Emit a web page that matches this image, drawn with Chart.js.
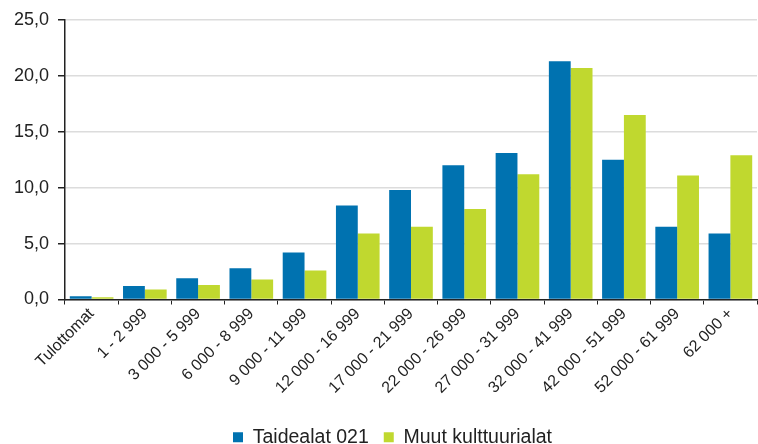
<!DOCTYPE html>
<html>
<head>
<meta charset="utf-8">
<script src="https://cdn.jsdelivr.net/npm/chart.js@4"></script>
<style>
html,body{margin:0;padding:0;background:#fff;}
#wrap{width:758px;height:444px;position:relative;}
</style>
</head>
<body>
<div id="wrap"><canvas id="c" width="758" height="444"></canvas></div>
<script>
const categories = ["Tulottomat","1 - 2 999","3 000 - 5 999","6 000 - 8 999","9 000 - 11 999","12 000 - 16 999","17 000 - 21 999","22 000 - 26 999","27 000 - 31 999","32 000 - 41 999","42 000 - 51 999","52 000 - 61 999","62 000 +"];
const taidealat = [0.3,1.2,1.9,2.8,4.2,8.4,9.8,12.0,13.1,21.3,12.5,6.5,5.9];
const muut = [0.2,0.9,1.3,1.8,2.6,5.9,6.5,8.1,11.2,20.7,16.5,11.1,12.9];
const seriesNames = ["Taidealat 021","Muut kulttuurialat"];
const yTicks = [0,5,10,15,20,25];

const FONT = "'Liberation Sans', Arial, sans-serif";
const shiftLegend = {
  id: 'shiftLegend',
  afterLayout(chart) {
    if (chart.legend) { chart.legend.__shifted = false; }
  },
  beforeDraw(chart) {
    const l = chart.legend;
    if (l && !l.__shifted) { l.left += 28; l.__shifted = true; }
  }
};
new Chart(document.getElementById('c'), {
  type: 'bar',
  data: {
    labels: categories,
    datasets: [
      {label: seriesNames[0], data: taidealat, backgroundColor: '#0072b0', borderWidth: 0},
      {label: seriesNames[1], data: muut, backgroundColor: '#c0d82f', borderWidth: 0}
    ]
  },
  plugins: [shiftLegend],
  options: {
    responsive: false,
    animation: false,
    devicePixelRatio: 1,
    layout: {padding: {top: 20, right: 1, left: 0, bottom: -13}},
    datasets: {bar: {categoryPercentage: 0.82, barPercentage: 1}},
    plugins: {
      legend: {
        position: 'bottom',
        labels: {font: {family: FONT, size: 19.5}, color: '#222', boxWidth: 10, boxHeight: 10, padding: 15}
      },
      tooltip: {enabled: false}
    },
    scales: {
      x: {
        offset: true,
        grid: {display: true, drawOnChartArea: false, drawTicks: true, tickLength: 5, color: '#222', offset: true},
        border: {display: true, color: '#222', width: 1.5},
        ticks: {font: {family: FONT, size: 16}, color: '#222', maxRotation: 45, minRotation: 45, padding: 0, autoSkip: false},
        afterFit: s => { s.height = 113; }
      },
      y: {
        min: 0, max: 25,
        afterBuildTicks: s => { s.ticks = yTicks.map(v => ({value: v})); },
        grid: {color: '#dcdcdc', lineWidth: 1.5, drawTicks: true, tickLength: 7, tickColor: '#222'},
        border: {display: true, color: '#222', width: 1.5},
        ticks: {font: {family: FONT, size: 18}, color: '#222', padding: 9,
          callback: v => v.toFixed(1).replace('.', ',')},
        afterFit: s => { s.width = 65; }
      }
    }
  }
});
</script>
</body>
</html>
